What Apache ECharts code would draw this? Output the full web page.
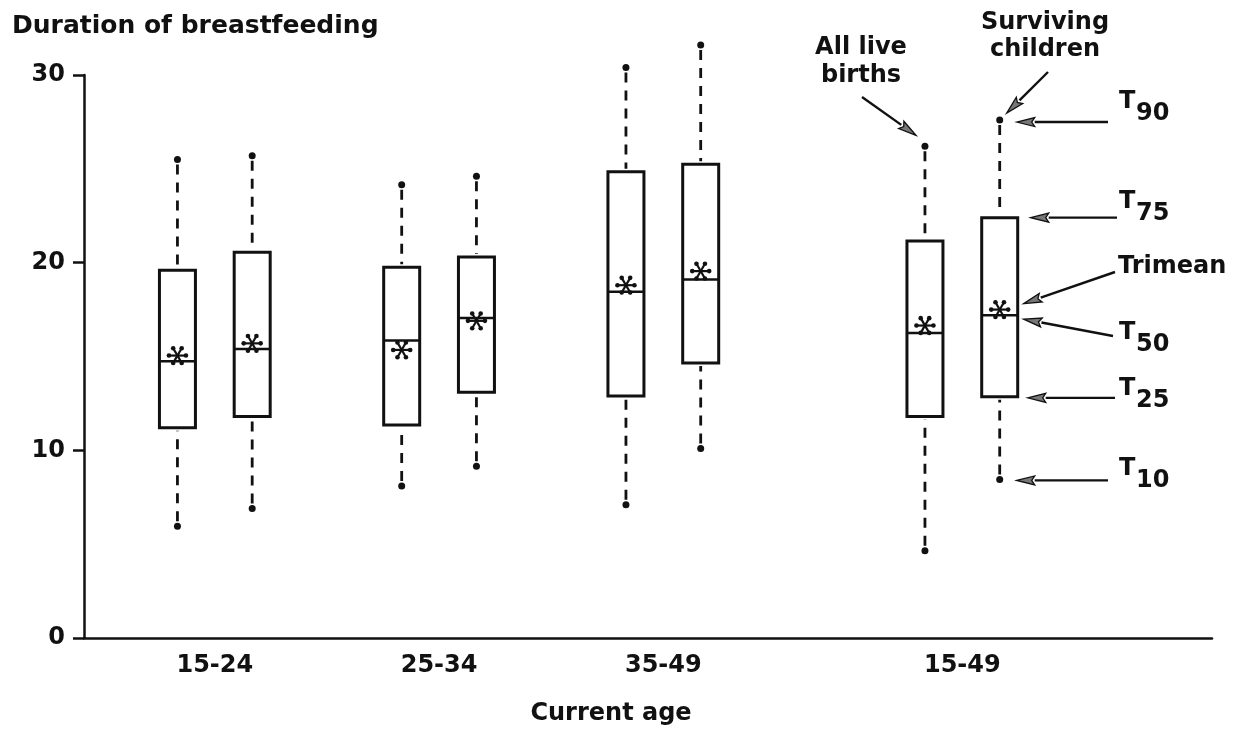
<!DOCTYPE html>
<html>
<head>
<meta charset="utf-8">
<script src="https://cdn.jsdelivr.net/npm/echarts@6/dist/echarts.min.js"></script>
<style>
  html, body { margin: 0; padding: 0; background: #fff; }
  #chart { width: 1235px; height: 729px; }
</style>
</head>
<body>
<div id="chart"></div>
<script>
// Age groups along the x axis; each has one box per population
const ageGroups = ['15-24', '25-34', '35-49', '15-49'];
const populations = ['All live births', 'Surviving children'];

// Duration of breastfeeding (months), box order: group by group, all live births then surviving children
const t10     = [5.95, 6.9, 8.1, 9.15, 7.1, 10.1, 4.65, 8.45];
const t25     = [11.2, 11.8, 11.35, 13.1, 12.9, 14.65, 11.8, 12.85];
const t50     = [14.75, 15.4, 15.85, 17.05, 18.45, 19.1, 16.25, 17.2];
const t75     = [19.6, 20.55, 19.75, 20.3, 24.85, 25.25, 21.15, 22.4];
const t90     = [25.5, 25.7, 24.15, 24.6, 30.4, 31.6, 26.2, 27.6];
const trimean = [15.05, 15.7, 15.35, 16.9, 18.8, 19.55, 16.65, 17.5];

// y axis ticks
const yTicks = [0, 10, 20, 30];

const INK = '#111';
const FONT = '"DejaVu Sans", "Liberation Sans", sans-serif';

// Slot layout on the x axis: boxes of a pair sit one unit apart, the pooled group gets a wider gap
const groupStart = [1, 4, 7, 11];
const labelPos = groupStart.map(s => s + 0.5);

const boxes = [];
ageGroups.forEach((g, gi) => {
  populations.forEach((p, pi) => {
    const i = gi * 2 + pi;
    boxes.push([groupStart[gi] + pi, t10[i], t25[i], t50[i], t75[i], t90[i], trimean[i]]);
  });
});

const HALF_W = 18;

function renderBox(params, api) {
  const x = api.value(0);
  const at = k => api.coord([x, api.value(k)]);
  const cx = at(1)[0];
  const y10 = at(1)[1], y25 = at(2)[1], y50 = at(3)[1], y75 = at(4)[1], y90 = at(5)[1], ytm = at(6)[1];
  const dash = { stroke: INK, lineWidth: 2.8, lineDash: [10, 8], fill: null };
  const children = [
    { type: 'line', shape: { x1: cx, y1: y90 + 5, x2: cx, y2: y75 - 3 }, style: dash },
    { type: 'line', shape: { x1: cx, y1: y10 - 5, x2: cx, y2: y25 + 3 }, style: dash },
    { type: 'circle', shape: { cx: cx, cy: y90, r: 3.5 }, style: { fill: INK } },
    { type: 'circle', shape: { cx: cx, cy: y10, r: 3.5 }, style: { fill: INK } },
    { type: 'rect', shape: { x: cx - HALF_W, y: y75, width: 2 * HALF_W, height: y25 - y75 },
      style: { fill: '#fff', stroke: INK, lineWidth: 3 } },
    { type: 'line', shape: { x1: cx - HALF_W, y1: y50, x2: cx + HALF_W, y2: y50 },
      style: { stroke: INK, lineWidth: 2.5 } }
  ];
  // six-armed star marking the trimean
  const arm = 8.5;
  for (let a = 0; a < 3; a++) {
    const ang = a * Math.PI / 3;
    const dx = arm * Math.cos(ang), dy = arm * Math.sin(ang);
    children.push({ type: 'line', shape: { x1: cx - dx, y1: ytm - dy, x2: cx + dx, y2: ytm + dy },
      style: { stroke: INK, lineWidth: 2.2 } });
    children.push({ type: 'circle', shape: { cx: cx + dx, cy: ytm + dy, r: 2.3 }, style: { fill: INK } });
    children.push({ type: 'circle', shape: { cx: cx - dx, cy: ytm - dy, r: 2.3 }, style: { fill: INK } });
  }
  return { type: 'group', children: children };
}

const chart = echarts.init(document.getElementById('chart'), null, { renderer: 'canvas' });

const option = {
  animation: false,
  backgroundColor: '#fff',
  title: [
    { text: 'Duration of breastfeeding', left: 7, top: 9,
      textStyle: { fontFamily: FONT, fontWeight: 'bold', fontSize: 25, color: INK } },
    { text: 'Current age', left: 606, top: 697, textAlign: 'center',
      textStyle: { fontFamily: FONT, fontWeight: 'bold', fontSize: 24, color: INK } }
  ],
  grid: { left: 84, right: 23, top: 75, bottom: 91, containLabel: false, outerBoundsMode: 'none' },
  xAxis: {
    type: 'value', min: -0.25, max: 14.84,
    splitLine: { show: false },
    axisTick: { show: false },
    axisLine: { onZero: false, lineStyle: { color: INK, width: 2.5 } },
    axisLabel: {
      customValues: labelPos,
      formatter: v => ageGroups[labelPos.indexOf(v)] || '',
      fontFamily: FONT, fontWeight: 'bold', fontSize: 24, color: INK, margin: 16
    }
  },
  yAxis: {
    type: 'value', min: 0, max: 30, interval: 10,
    splitLine: { show: false },
    axisLine: { show: true, onZero: false, lineStyle: { color: INK, width: 2.5 } },
    axisTick: { show: true, length: 11, lineStyle: { color: INK, width: 2.5 } },
    axisLabel: {
      customValues: yTicks,
      fontFamily: FONT, fontWeight: 'bold', fontSize: 24, color: INK, margin: 19
    }
  },
  series: [{
    type: 'custom',
    renderItem: renderBox,
    data: boxes,
    clip: false,
    encode: { x: 0, y: [1, 2, 3, 4, 5, 6] }
  }]
};

chart.setOption(option);

// Annotations explaining the pooled 15-49 boxes
function arrow(x1, y1, x2, y2) {
  const len = Math.hypot(x2 - x1, y2 - y1);
  const ux = (x2 - x1) / len, uy = (y2 - y1) / len;
  const hl = 18, hw = 4.5;
  const bx = x2 - ux * hl, by = y2 - uy * hl;
  return [
    { type: 'line', shape: { x1: x1, y1: y1, x2: bx, y2: by }, style: { stroke: INK, lineWidth: 2.4 } },
    { type: 'polygon', shape: { points: [[x2, y2], [bx - uy * hw, by + ux * hw], [bx + ux * 3, by + uy * 3], [bx + uy * hw, by - ux * hw]] },
      style: { fill: '#777', stroke: INK, lineWidth: 1.3 } }
  ];
}

function txt(s, x, y, align) {
  return { type: 'text', x: x, y: y,
    style: { text: s, font: 'bold 24px ' + FONT, fill: INK, align: align || 'left', verticalAlign: 'middle' } };
}

const toPx = (xv, yv) => chart.convertToPixel({ gridIndex: 0 }, [xv, yv]);
const allB = boxes[6], survB = boxes[7];
const sx = toPx(survB[0], 0)[0];
const y = v => toPx(survB[0], v)[1];
const right = sx + HALF_W;

const els = [];
// population labels
els.push(txt('All live', 861, 48, 'center'), txt('births', 861, 76, 'center'));
els.push(txt('Surviving', 1045, 23, 'center'), txt('children', 1045, 50, 'center'));
const aDot = toPx(allB[0], allB[5]);
els.push(...arrow(862, 97, aDot[0] - 9, aDot[1] - 11));
const sDot = [sx, y(survB[5])];
els.push(...arrow(1048, 72, sDot[0] + 7, sDot[1] - 7));

// percentile legend on the right
const subs = [
  { sub: '90', ty: 102, tail: [1108, sDot[1] + 2], tip: [sx + 17, sDot[1] + 2] },
  { sub: '75', ty: 202, tail: [1117, y(survB[4])], tip: [right + 13, y(survB[4])] },
  { sub: '50', ty: 333, tail: [1113, 336], tip: [right + 6, y(survB[3]) + 4] },
  { sub: '25', ty: 389, tail: [1115, y(survB[2]) + 1], tip: [right + 10, y(survB[2]) + 1] },
  { sub: '10', ty: 469, tail: [1108, y(survB[1]) + 1], tip: [sx + 17, y(survB[1]) + 1] }
];
subs.forEach(s => {
  els.push(txt('T', 1119, s.ty), txt(s.sub, 1136, s.ty + 12));
  els.push(...arrow(s.tail[0], s.tail[1], s.tip[0], s.tip[1]));
});
els.push(txt('Trimean', 1118, 267));
els.push(...arrow(1115, 272, right + 6, y(survB[6]) - 6));

chart.setOption({ graphic: { elements: els } });
</script>
</body>
</html>
